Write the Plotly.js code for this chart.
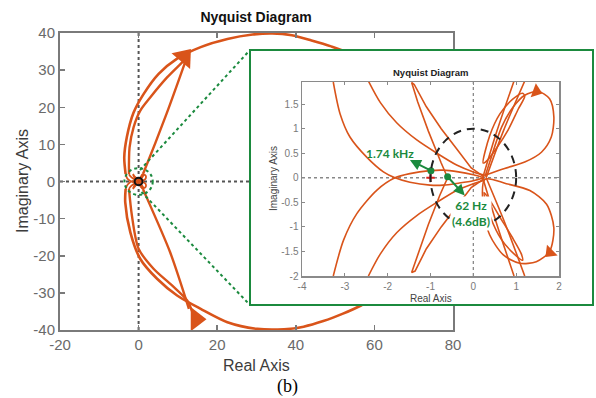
<!DOCTYPE html>
<html>
<head>
<meta charset="utf-8">
<script src="https://cdn.plot.ly/plotly-3.0.1.min.js"></script>
<style>html,body{margin:0;padding:0;background:#fff}</style>
</head>
<body>
<div id="chart" style="width:596px;height:398px"></div>
<script>
// ---------- Full-scale view: large branches of the Nyquist curve ----------
const outerRe = [-3.3, -3.65, -3.0, -1.3, 1.3, 5.1, 9.8, 15.8, 22.6, 29.0, 34.0, 39.0, 44.0, 49.0, 53.5, 59.0, 65.0, 70.0, 73.0, 74.0, 73.0, 70.0, 65.0, 60.5, 56.6, 52.0, 47.0, 42.0, 37.0, 30.2, 22.6, 15.8, 9.8, 4.7, 0.4, -2.1, -3.4, -3.3];
const outerIm = [2.0, 6.5, 11.9, 18.5, 23.6, 29.0, 33.1, 36.2, 38.4, 39.6, 39.9, 39.4, 38.0, 36.4, 34.6, 31.0, 25.0, 16.0, 8.0, 0.0, -8.0, -17.0, -26.0, -31.0, -33.4, -35.6, -37.6, -39.1, -39.8, -39.7, -37.9, -34.3, -30.7, -26.2, -20.8, -13.7, -5.6, -2.0];
const innerUpRe = [-2.45, -2.3, -1.28, 0.43, 3.0, 7.3, 10.7, 12.3];
const innerUpIm = [2.0, 9.2, 14.6, 19.1, 22.7, 28.1, 31.7, 33.4];
const innerDnRe = [-2.45, -1.7, 0.0, 3.8, 8.5, 12.4, 13.6];
const innerDnIm = [-2.0, -9.2, -18.1, -23.5, -28.0, -32.1, -35.0];
const straightUpRe = [1.1, 1.3, 7.1, 12.3];
const straightUpIm = [2.0, 2.5, 18.2, 33.5];
const straightDnRe = [1.1, 1.3, 8.0, 12.8];
const straightDnIm = [-2.0, -2.5, -19.0, -34.3];
// direction arrows on the large branches
const bigArrowRe = [11.6, 14.6];
const bigArrowIm = [33.5, -37.1];
const bigArrowAngle = [40, 90];

// ---------- Zoomed view near the critical point ----------
const curveARe = [-3.27, -3.11, -2.88, -2.49, -2.10, -1.83, -1.48, -1.01, -0.70, -0.35, 0.0, 0.25];
const curveAIm = [1.95, 1.30, 0.83, 0.42, 0.12, 0.0, -0.09, -0.15, -0.15, -0.11, -0.06, 0.0];
const curveBRe = [-3.27, -3.03, -2.72, -2.25, -1.83, -1.48, -1.01, -0.70, -0.35, 0.0, 0.25];
const curveBIm = [-2.0, -1.27, -0.73, -0.25, 0.0, 0.085, 0.145, 0.155, 0.12, 0.06, 0.0];
const curveCRe = [-2.45, -2.17, -1.79, -1.32, -0.85, -0.39, 0.0, 0.27];
const curveCIm = [1.97, 1.53, 1.12, 0.77, 0.50, 0.26, 0.12, 0.05];
const curveDRe = [-2.45, -2.17, -1.79, -1.32, -0.85, -0.39, 0.0, 0.27];
const curveDIm = [-2.0, -1.55, -1.12, -0.77, -0.50, -0.26, -0.12, -0.05];
const spikeUpRe = [-0.6, -0.75, -1.05, -1.30, -1.44, -1.38, -1.10, -0.75, -0.40, -0.05, 0.25];
const spikeUpIm = [0.0, 0.30, 0.95, 1.55, 1.94, 1.90, 1.45, 1.00, 0.60, 0.20, 0.02];
const spikeDnRe = [-0.6, -0.78, -1.05, -1.30, -1.44, -1.36, -1.10, -0.75, -0.40, -0.05, 0.25];
const spikeDnIm = [0.0, -0.35, -0.95, -1.55, -1.93, -1.90, -1.45, -1.00, -0.60, -0.20, -0.02];
const loopUpRe = [0.27, 0.42, 0.66, 0.93, 1.20, 1.51, 1.78, 1.88, 1.82, 1.59, 1.20, 0.73, 0.27];
const loopUpIm = [0.02, 0.42, 1.03, 1.44, 1.68, 1.76, 1.61, 1.24, 0.83, 0.52, 0.32, 0.19, 0.05];
const ellUpRe = [0.23, 0.38, 0.62, 0.92, 1.15, 1.20, 1.05, 0.81, 0.54, 0.33, 0.23];
const ellUpIm = [0.30, 0.85, 1.30, 1.60, 1.72, 1.66, 1.40, 0.97, 0.60, 0.36, 0.30];
const loopDnRe = [0.27, 0.77, 1.32, 1.71, 1.88, 1.78, 1.47, 1.08, 0.70, 0.38, 0.23, 0.27];
const loopDnIm = [-0.03, -0.12, -0.26, -0.54, -1.02, -1.50, -1.71, -1.74, -1.57, -1.16, -0.61, -0.03];
const ellDnRe = [0.25, 0.40, 0.65, 0.95, 1.15, 1.12, 0.90, 0.62, 0.38, 0.25];
const ellDnIm = [-0.30, -0.80, -1.25, -1.55, -1.68, -1.55, -1.20, -0.80, -0.45, -0.30];
const rayUp1Re = [0.22, 0.55, 0.95], rayUp1Im = [0.0, 0.95, 1.97];
const rayUp2Re = [0.30, 0.70, 1.20], rayUp2Im = [0.0, 0.95, 1.97];
const rayDn1Re = [0.22, 0.55, 0.95], rayDn1Im = [0.0, -0.95, -2.0];
const rayDn2Re = [0.30, 0.75, 1.20], rayDn2Im = [0.0, -0.95, -2.0];
const smallArrowRe = [1.47, 1.79];
const smallArrowIm = [1.76, -1.52];
const smallArrowAngle = [110, 225];
// marked frequencies
const markRe = [-0.99, -0.60];
const markIm = [0.145, 0.02];
const criticalRe = [-1], criticalIm = [0];

// tick labels
const mainXTicks = [-20, 0, 20, 40, 60, 80];
const mainYTicks = [-40, -30, -20, -10, 0, 10, 20, 30, 40];
const zoomXTicks = [-4, -3, -2, -1, 0, 1, 2];
const zoomYTicks = [-2, -1.5, -1, -0.5, 0, 0.5, 1, 1.5];

const ORANGE = '#d9541a';
const GREEN = '#1b8a3e';
const W = 596, H = 398;
const fx = p => p / W;          // pixel column -> paper x
const fy = p => 1 - p / H;      // pixel row -> paper y

function line(re, im, xa, ya, width, smooth) {
  return {type: 'scatter', mode: 'lines', x: re, y: im, xaxis: xa, yaxis: ya,
          hoverinfo: 'skip',
          line: {color: ORANGE, width: width, shape: smooth ? 'spline' : 'linear', smoothing: 0.8}};
}

// [re, im, smooth]
const zoomCurves = [
  [curveARe, curveAIm, true], [curveBRe, curveBIm, true], [curveCRe, curveCIm, true], [curveDRe, curveDIm, true],
  [spikeUpRe, spikeUpIm, false], [spikeDnRe, spikeDnIm, false], [loopUpRe, loopUpIm, true], [ellUpRe, ellUpIm, true],
  [loopDnRe, loopDnIm, true], [ellDnRe, ellDnIm, true], [rayUp1Re, rayUp1Im, true], [rayUp2Re, rayUp2Im, true],
  [rayDn1Re, rayDn1Im, true], [rayDn2Re, rayDn2Im, true]
];

const traces = [];
// large view
traces.push(line(outerRe, outerIm, 'x', 'y', 2.6, true));
traces.push(line(innerUpRe, innerUpIm, 'x', 'y', 2.4, true));
traces.push(line(innerDnRe, innerDnIm, 'x', 'y', 2.4, true));
traces.push(line(straightUpRe, straightUpIm, 'x', 'y', 2.4, true));
traces.push(line(straightDnRe, straightDnIm, 'x', 'y', 2.4, true));
zoomCurves.forEach(c => traces.push(line(c[0], c[1], 'x', 'y', 1.8, c[2])));
traces.push({type: 'scatter', mode: 'markers', x: bigArrowRe, y: bigArrowIm, xaxis: 'x', yaxis: 'y',
  hoverinfo: 'skip', marker: {symbol: 'triangle-up', size: 21, color: ORANGE, angle: bigArrowAngle, line: {width: 0}}});

// blank panel behind the zoomed view
traces.push({type: 'scatter', mode: 'markers', x: [0], y: [0], xaxis: 'x2', yaxis: 'y2',
  hoverinfo: 'skip', marker: {opacity: 0}});

// zoomed view
zoomCurves.forEach(c => traces.push(line(c[0], c[1], 'x3', 'y3', 1.6, c[2])));
traces.push({type: 'scatter', mode: 'markers', x: smallArrowRe, y: smallArrowIm, xaxis: 'x3', yaxis: 'y3',
  hoverinfo: 'skip', marker: {symbol: 'triangle-up', size: 13, color: ORANGE, angle: smallArrowAngle, line: {width: 0}}});
traces.push({type: 'scatter', mode: 'markers', x: criticalRe, y: criticalIm, xaxis: 'x3', yaxis: 'y3',
  hoverinfo: 'skip', marker: {symbol: 'cross-thin', size: 6, line: {color: '#e0201a', width: 2}}});
traces.push({type: 'scatter', mode: 'markers', x: markRe, y: markIm, xaxis: 'x3', yaxis: 'y3',
  hoverinfo: 'skip', marker: {symbol: 'circle', size: 7, color: GREEN}});

const axisCommon = {showgrid: false, zeroline: false, showline: true, mirror: 'allticks', ticks: 'inside', fixedrange: true};

function label(text, x, y, size, color, extra) {
  return Object.assign({text: text, xref: 'paper', yref: 'paper', x: x, y: y,
    xanchor: 'center', yanchor: 'middle', showarrow: false, font: {size: size, color: color}}, extra || {});
}

const layout = {
  width: W, height: H,
  margin: {l: 0, r: 0, t: 0, b: 0},
  paper_bgcolor: '#ffffff', plot_bgcolor: '#ffffff',
  showlegend: false,
  font: {family: '"Liberation Sans", Arial, sans-serif', color: '#444'},
  title: {text: '<b>Nyquist Diagram</b>', x: fx(256), xanchor: 'center', xref: 'paper',
          y: fy(17), yanchor: 'middle', yref: 'paper', font: {size: 14, color: '#111'}},
  xaxis: Object.assign({}, axisCommon, {
    domain: [fx(60), fx(453)], range: [-20, 80], anchor: 'y',
    tickvals: mainXTicks, ticktext: mainXTicks.map(String),
    ticklen: 5, tickwidth: 1.5, tickcolor: '#7a7a7a', linecolor: '#7a7a7a', linewidth: 2,
    tickfont: {size: 15, color: '#6a6a6a'}
  }),
  yaxis: Object.assign({}, axisCommon, {
    domain: [fy(330), fy(33)], range: [-40, 40], anchor: 'x',
    tickvals: mainYTicks, ticktext: mainYTicks.map(String),
    ticklen: 5, tickwidth: 1.5, tickcolor: '#7a7a7a', linecolor: '#7a7a7a', linewidth: 2,
    tickfont: {size: 15, color: '#6a6a6a'}
  }),
  xaxis2: {domain: [fx(250), fx(593)], range: [0, 1], anchor: 'y2', visible: false, fixedrange: true},
  yaxis2: {domain: [fy(305), fy(50)], range: [0, 1], anchor: 'x2', visible: false, fixedrange: true},
  xaxis3: Object.assign({}, axisCommon, {
    domain: [fx(302), fx(559)], range: [-4, 2], anchor: 'y3',
    tickvals: zoomXTicks, ticktext: zoomXTicks.map(String),
    ticklen: 3, tickwidth: 1, tickcolor: '#8a8a8a', linecolor: '#8a8a8a', linewidth: 1.5,
    tickfont: {size: 10, color: '#7a7a7a'}
  }),
  yaxis3: Object.assign({}, axisCommon, {
    domain: [fy(276), fy(82)], range: [-2, 1.95], anchor: 'x3',
    tickvals: zoomYTicks, ticktext: zoomYTicks.map(String),
    ticklen: 3, tickwidth: 1, tickcolor: '#8a8a8a', linecolor: '#8a8a8a', linewidth: 1.5,
    tickfont: {size: 10, color: '#7a7a7a'}
  }),
  shapes: [
    // dotted axes through the origin, large view
    {type: 'line', xref: 'x', yref: 'y', x0: 0, x1: 0, y0: -40, y1: 40, layer: 'below',
     line: {color: '#555', width: 2, dash: 'dot'}},
    {type: 'line', xref: 'x', yref: 'y', x0: -20, x1: 80, y0: 0, y1: 0, layer: 'below',
     line: {color: '#555', width: 2, dash: 'dot'}},
    // unit circle, large view
    {type: 'circle', xref: 'x', yref: 'y', x0: -1, x1: 1, y0: -1, y1: 1,
     line: {color: '#111', width: 2}},
    // zoom marker circle
    {type: 'circle', xref: 'x', yref: 'y', x0: -3.6, x1: 3.6, y0: -3.6, y1: 3.6,
     line: {color: GREEN, width: 2, dash: 'dot'}},
    // connector lines to the zoomed panel
    {type: 'line', xref: 'paper', yref: 'paper', x0: fx(140), y0: fy(170), x1: fx(250), y1: fy(50),
     line: {color: GREEN, width: 2, dash: 'dot'}},
    {type: 'line', xref: 'paper', yref: 'paper', x0: fx(141.5), y0: fy(192), x1: fx(250), y1: fy(305),
     line: {color: GREEN, width: 2, dash: 'dot'}},
    // zoomed panel frame
    {type: 'rect', xref: 'paper', yref: 'paper', x0: fx(250), x1: fx(593), y0: fy(305), y1: fy(50),
     line: {color: GREEN, width: 2}, fillcolor: 'rgba(0,0,0,0)'},
    // dotted axes, zoomed view
    {type: 'line', xref: 'x3', yref: 'y3', x0: 0, x1: 0, y0: -2, y1: 1.95, layer: 'below',
     line: {color: '#888', width: 1.3, dash: 'dot'}},
    {type: 'line', xref: 'x3', yref: 'y3', x0: -4, x1: 2, y0: 0, y1: 0, layer: 'below',
     line: {color: '#888', width: 1.3, dash: 'dot'}},
    // unit circle, zoomed view
    {type: 'circle', xref: 'x3', yref: 'y3', x0: -1, x1: 1, y0: -1, y1: 1,
     line: {color: '#222', width: 2, dash: '8px,6px'}}
  ],
  annotations: [
    label('Real Axis', fx(256), fy(365), 16, '#3c3c3c'),
    label('Imaginary Axis', fx(22), fy(181), 16, '#3c3c3c', {textangle: -90}),
    label('(b)', fx(287), fy(386), 18, '#000',
          {font: {size: 18, color: '#000', family: '"Liberation Serif", "Times New Roman", serif'}}),
    label('<b>Nyquist Diagram</b>', fx(431), fy(72), 9.5, '#222'),
    label('Real Axis', fx(430.5), fy(298), 10, '#444'),
    label('Imaginary Axis', fx(273), fy(179), 10, '#444', {textangle: -90}),
    // frequency callouts
    {text: '', xref: 'x3', yref: 'y3', axref: 'x3', ayref: 'y3', x: -1.48, y: 0.36, ax: markRe[0], ay: markIm[0],
     showarrow: true, arrowhead: 2, arrowsize: 1.1, arrowwidth: 2, arrowcolor: GREEN, standoff: 0, startstandoff: 0},
    {text: '<b>1.74 kHz</b>', xref: 'x3', yref: 'y3', x: -1.945, y: 0.50, xanchor: 'center', yanchor: 'middle',
     showarrow: false, font: {size: 12, color: GREEN, family: 'Lato, "Open Sans", sans-serif'}},
    {text: '<b>62 Hz<br>(4.6dB)</b>', xref: 'x3', yref: 'y3', x: -0.06, y: -0.72, xanchor: 'center', yanchor: 'middle',
     showarrow: false, bgcolor: '#ffffff', borderpad: 1,
     font: {size: 12, color: GREEN, family: 'Lato, "Open Sans", sans-serif'}},
    {text: '', xref: 'x3', yref: 'y3', axref: 'x3', ayref: 'y3', x: -0.2, y: -0.36, ax: markRe[1], ay: markIm[1],
     showarrow: true, arrowhead: 2, arrowsize: 1.1, arrowwidth: 2, arrowcolor: GREEN, standoff: 0, startstandoff: 0}
  ]
};

Plotly.newPlot('chart', traces, layout, {staticPlot: true, displayModeBar: false});
</script>
</body>
</html>
